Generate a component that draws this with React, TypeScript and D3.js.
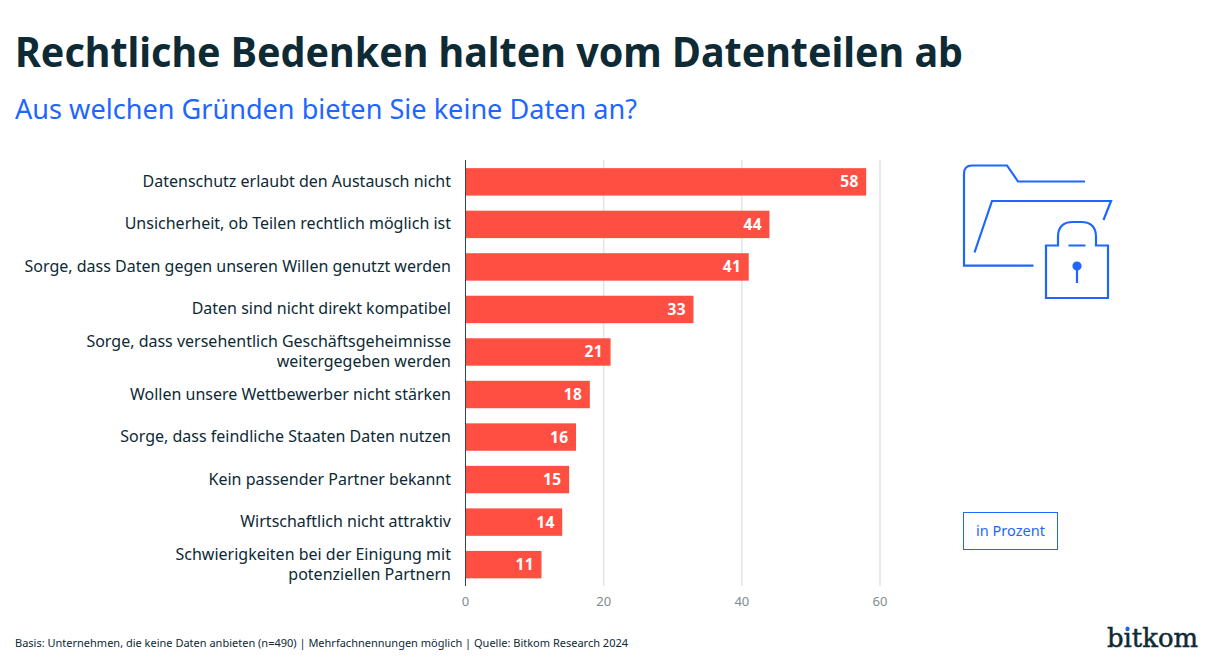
import * as d3 from "d3";
import React, { useEffect, useRef } from "react";

const categories = [
  ["Datenschutz erlaubt den Austausch nicht"],
  ["Unsicherheit, ob Teilen rechtlich möglich ist"],
  ["Sorge, dass Daten gegen unseren Willen genutzt werden"],
  ["Daten sind nicht direkt kompatibel"],
  ["Sorge, dass versehentlich Geschäftsgeheimnisse", "weitergegeben werden"],
  ["Wollen unsere Wettbewerber nicht stärken"],
  ["Sorge, dass feindliche Staaten Daten nutzen"],
  ["Kein passender Partner bekannt"],
  ["Wirtschaftlich nicht attraktiv"],
  ["Schwierigkeiten bei der Einigung mit", "potenziellen Partnern"],
];
const values = [58, 44, 41, 33, 21, 18, 16, 15, 14, 11];
const ticks = [0, 20, 40, 60];

const title = "Rechtliche Bedenken halten vom Datenteilen ab";
const subtitle = "Aus welchen Gründen bieten Sie keine Daten an?";
const footer = "Basis: Unternehmen, die keine Daten anbieten (n=490) | Mehrfachnennungen möglich | Quelle: Bitkom Research 2024";

const width = 1213;
const height = 665;
const font = "'Noto Sans', sans-serif";
const dark = "#0d2a35";
const blue = "#1f66ff";
const red = "#ff4f43";

const drawChart = (node: SVGSVGElement) => {
  const svg = d3.select(node);
  svg.selectAll("*").remove();

  const x = d3.scaleLinear().domain([0, 60]).range([465.5, 880]);
  const y = d3.scaleBand<number>()
    .domain(d3.range(values.length))
    .range([160.5, 586])
    .paddingInner(0.355)
    .paddingOuter(0.18);

  svg.append("text")
    .attr("x", 15).attr("y", 67)
    .attr("font-size", 42).attr("font-weight", 700)
    .attr("textLength", 948).attr("lengthAdjust", "spacingAndGlyphs")
    .attr("fill", dark).text(title);

  svg.append("text")
    .attr("x", 15).attr("y", 119)
    .attr("font-size", 26.5).attr("fill", blue)
    .attr("textLength", 622).attr("lengthAdjust", "spacingAndGlyphs")
    .text(subtitle);

  // grid
  svg.append("g").selectAll("line")
    .data(ticks.slice(1))
    .join("line")
    .attr("x1", (d) => x(d)).attr("x2", (d) => x(d))
    .attr("y1", 160).attr("y2", 586)
    .attr("stroke", "#e2e4e5").attr("stroke-width", 1.5);

  svg.append("g").selectAll("text")
    .data(ticks)
    .join("text")
    .attr("x", (d) => x(d)).attr("y", 606)
    .attr("text-anchor", "middle")
    .attr("font-size", 13).attr("fill", "#7f8c91")
    .text((d) => d);

  // bars
  svg.append("g").selectAll("rect")
    .data(values)
    .join("rect")
    .attr("x", x(0))
    .attr("y", (_, i) => y(i) as number)
    .attr("width", (d) => x(d) - x(0))
    .attr("height", y.bandwidth())
    .attr("fill", red);

  svg.append("g").selectAll("text")
    .data(values)
    .join("text")
    .attr("x", (d) => x(d) - 7.5)
    .attr("y", (_, i) => (y(i) as number) + y.bandwidth() / 2 + 5.5)
    .attr("text-anchor", "end")
    .attr("font-size", 15.5).attr("font-weight", 700)
    .attr("letter-spacing", 0.4)
    .attr("fill", "#fff")
    .text((d) => d);

  svg.append("line")
    .attr("x1", x(0)).attr("x2", x(0))
    .attr("y1", 160).attr("y2", 586)
    .attr("stroke", "#33474f").attr("stroke-width", 1);

  // category labels, two rows where the original wraps
  const labels = svg.append("g").selectAll("text")
    .data(categories)
    .join("text")
    .attr("text-anchor", "end")
    .attr("font-size", 16).attr("fill", dark);

  labels.selectAll("tspan")
    .data((d, i) => d.map((row, r) => ({ row, r, n: d.length, i })))
    .join("tspan")
    .attr("x", 451)
    .attr("y", (d) => (y(d.i) as number) + y.bandwidth() / 2 + 5 + (d.r - (d.n - 1) / 2) * 20)
    .text((d) => d.row);

  // icon
  const icon = svg.append("g")
    .attr("fill", "none").attr("stroke", blue).attr("stroke-width", 2.2);
  icon.append("path").attr("d", "M1033.5 265.7H964V174Q964 165.5 972 165.5H1007L1018 181.5H1085");
  icon.append("path").attr("d", "M974.5 252.5L992 201H1111L1103.5 220");
  icon.append("path").attr("d", "M1046 245.5H1058V237Q1058 222 1073 222H1081Q1096 222 1096 237V245.5H1108V298H1046Z");
  icon.append("path").attr("d", "M1068.5 245.5H1085.5M1077 266V283");
  icon.append("circle").attr("cx", 1077).attr("cy", 266).attr("r", 3.5).attr("fill", blue);

  // unit box
  svg.append("rect")
    .attr("x", 963.5).attr("y", 512.5)
    .attr("width", 94).attr("height", 37)
    .attr("fill", "none").attr("stroke", blue).attr("stroke-width", 1);
  svg.append("text")
    .attr("x", 1010.5).attr("y", 536)
    .attr("text-anchor", "middle")
    .attr("font-size", 14.5).attr("fill", blue)
    .text("in Prozent");

  svg.append("text")
    .attr("x", 15).attr("y", 647)
    .attr("font-size", 11).attr("fill", dark)
    .text(footer);

  // logo
  svg.append("text")
    .attr("x", 1107).attr("y", 647)
    .attr("font-family", "'DejaVu Serif', serif")
    .attr("font-size", 26)
    .attr("textLength", 91).attr("lengthAdjust", "spacingAndGlyphs")
    .attr("fill", dark)
    .attr("stroke", dark).attr("stroke-width", 0.5)
    .text("bitkom");
  svg.append("circle").attr("cx", 1127.5).attr("cy", 628.5).attr("r", 2).attr("fill", blue);
};

export default function App() {
  const ref = useRef<SVGSVGElement>(null);
  useEffect(() => {
    if (ref.current) drawChart(ref.current);
  }, []);
  return (
    <svg
      ref={ref}
      width={width}
      height={height}
      fontFamily={font}
      style={{ position: "absolute", left: 0, top: 0, background: "#fff" }}
    />
  );
}
